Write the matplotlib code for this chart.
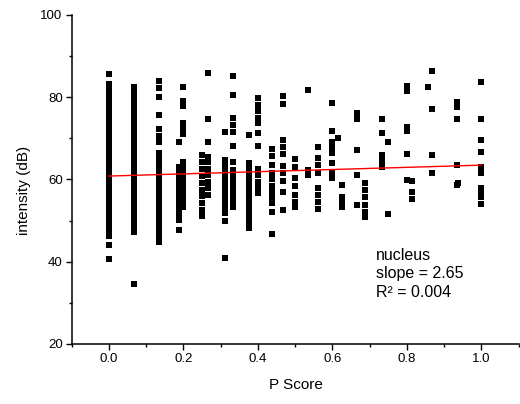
import numpy as np
import matplotlib
matplotlib.use('Agg')
import matplotlib.pyplot as plt
from matplotlib.ticker import MultipleLocator

plt.rcParams['font.family'] = ['Liberation Sans', 'DejaVu Sans']

# P score of each column of points
p_cols = [0.0, 0.0667, 0.1333, 0.1875, 0.2, 0.25, 0.2667, 0.3125, 0.3333,
          0.375, 0.4, 0.4375, 0.4667, 0.5, 0.5333, 0.5625, 0.6, 0.615,
          0.625, 0.6667, 0.6875, 0.7333, 0.75, 0.8, 0.8125, 0.857,
          0.8667, 0.9333, 0.9375, 1.0]

# intensity (dB) read from each column, same order as p_cols
intensity_cols = [
    [40.6, 44.0, 46.2, 47.8, 48.5, 49.6, 50.2, 51.3, 52.1, 52.7, 53.9, 54.4,
     55.6, 56.1, 57.3, 58.0, 58.8, 59.5, 60.4, 61.2, 61.9, 62.7, 63.5, 64.4,
     65.1, 66.0, 66.8, 67.5, 68.3, 69.2, 70.0, 70.9, 71.6, 72.4, 73.3, 74.1,
     74.9, 75.8, 76.6, 77.3, 78.2, 79.0, 79.9, 80.7, 81.4, 82.3, 83.2, 85.7],
    [34.6, 47.1, 48.0, 48.9, 49.7, 50.6, 51.5, 52.3, 53.2, 54.1, 54.9, 55.8,
     56.7, 57.5, 58.4, 59.3, 60.1, 61.0, 61.9, 62.7, 63.6, 64.5, 65.3, 66.2,
     67.1, 67.9, 68.8, 69.7, 70.5, 71.4, 72.3, 73.1, 74.0, 74.9, 75.7, 76.6,
     77.5, 78.3, 79.2, 80.1, 80.9, 81.8, 82.5],
    [44.8, 45.7, 46.6, 47.4, 48.3, 49.2, 50.0, 50.9, 51.8, 52.6, 53.5, 54.4,
     55.2, 56.1, 57.0, 57.8, 58.7, 59.6, 60.4, 61.3, 62.2, 63.0, 63.9, 64.8,
     65.6, 66.5, 69.1, 70.5, 72.2, 75.6, 79.9, 82.3, 84.0],
    [47.7, 50.1, 51.0, 51.9, 52.8, 53.6, 54.5, 55.4, 56.2, 57.1, 58.0, 58.8,
     59.7, 60.6, 61.4, 62.3, 63.1, 69.0],
    [53.4, 54.3, 55.1, 56.0, 56.9, 57.7, 58.6, 59.5, 60.3, 61.2, 62.1, 63.1,
     64.3, 71.0, 72.4, 73.6, 77.8, 79.1, 82.5],
    [51.0, 52.6, 54.2, 55.9, 57.5, 59.2, 60.8, 62.5, 64.1, 65.8],
    [56.2, 57.8, 59.4, 61.0, 62.6, 64.3, 65.5, 69.0, 74.6, 85.8],
    [40.8, 50.0, 51.8, 52.9, 54.0, 55.1, 56.2, 57.3, 58.4, 59.5, 60.6, 61.7,
     62.9, 64.0, 64.7, 71.6],
    [53.4, 54.5, 55.6, 56.7, 57.8, 58.9, 60.0, 61.1, 62.3, 64.3, 68.2, 71.6,
     73.2, 74.8, 80.6, 85.1],
    [48.1, 49.2, 50.3, 51.4, 52.5, 53.6, 54.7, 55.8, 56.9, 58.0, 59.1, 60.2,
     61.3, 62.4, 63.9, 70.7],
    [56.6, 57.8, 59.4, 61.0, 62.5, 68.0, 71.2, 73.6, 75.0, 76.6, 78.0, 79.8],
    [46.7, 52.1, 54.2, 55.5, 57.0, 58.5, 60.0, 61.5, 63.5, 65.7, 67.3],
    [52.6, 56.9, 59.7, 61.5, 63.2, 66.2, 67.8, 69.6, 78.3, 80.2],
    [53.4, 54.6, 56.2, 58.4, 60.3, 63.1, 64.9],
    [61.0, 62.3, 81.8],
    [52.8, 54.6, 56.2, 57.8, 61.6, 63.4, 65.2, 67.8],
    [60.3, 61.6, 63.9, 66.5, 67.8, 69.0, 71.8, 78.6],
    [70.0],
    [53.2, 54.6, 55.8, 58.6],
    [53.8, 61.0, 67.1, 74.6, 76.2],
    [50.8, 52.0, 53.8, 55.6, 57.4, 59.2],
    [63.1, 64.5, 65.9, 71.2, 74.6],
    [51.7, 69.0],
    [59.8, 66.2, 71.7, 72.6, 81.4, 82.6],
    [55.2, 57.0, 59.5],
    [82.4],
    [61.5, 66.0, 77.1, 86.3],
    [58.6, 63.5, 74.6, 77.6, 78.8],
    [59.0],
    [53.9, 55.6, 56.6, 58.0, 61.6, 62.9, 66.7, 69.6, 74.6, 83.7],
]

# linear fit shown on the chart
slope = 2.65
intercept = 60.8
r_squared = 0.004

p_score = np.concatenate([[p] * len(v) for p, v in zip(p_cols, intensity_cols)])
intensity = np.concatenate(intensity_cols)

fig = plt.figure(figsize=(5.2, 4.04), dpi=100)
ax = fig.add_axes([71.7 / 520, 60 / 404, 447 / 520, 329.3 / 404])

ax.plot(p_score, intensity, 's', color='black', ms=5, mew=0)
fit_x = np.array([0.0, 1.0])
ax.plot(fit_x, intercept + slope * fit_x, color='red', lw=1)

ax.set_xlim(-0.1, 1.1)
ax.set_ylim(20, 100)
ax.xaxis.set_major_locator(MultipleLocator(0.2))
ax.xaxis.set_minor_locator(MultipleLocator(0.1))
ax.yaxis.set_major_locator(MultipleLocator(20))
ax.yaxis.set_minor_locator(MultipleLocator(10))
ax.tick_params(which='major', direction='out', length=4, width=1,
               labelsize=9.5, pad=2.5)
ax.tick_params(which='minor', direction='out', length=2.5, width=1)

for side in ['top', 'right']:
    ax.spines[side].set_visible(False)
for side in ['left', 'bottom']:
    ax.spines[side].set_linewidth(1.1)

fig.text(296 / 520, (404 - 385) / 404, 'P Score', ha='center', va='center',
         fontsize=11)
fig.text(24 / 520, (404 - 190) / 404, 'intensity (dB)', ha='center',
         va='center', rotation=90, fontsize=11)

ax.text(0.718, 43.4,
        'nucleus\nslope = {:.2f}\nR\u00b2 = {:.3f}'.format(slope, r_squared),
        ha='left', va='top', fontsize=11.5, linespacing=1.3)

fig.savefig('out.png', dpi=100)
plt.close()
